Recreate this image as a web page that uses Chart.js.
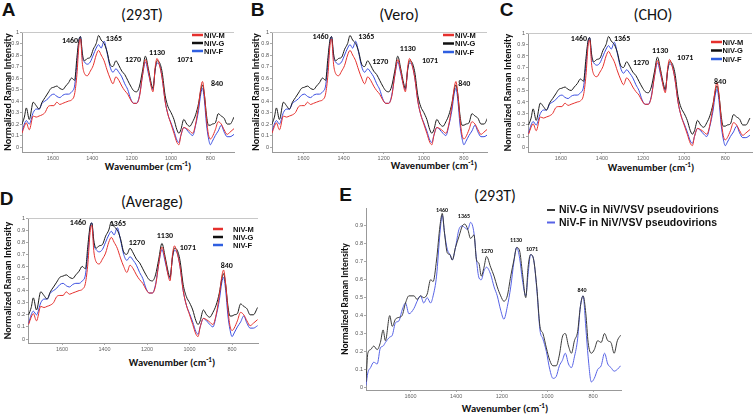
<!DOCTYPE html>
<html>
<head>
<meta charset="utf-8">
<script src="https://cdn.jsdelivr.net/npm/chart.js@4.4.1/dist/chart.umd.min.js"></script>
<style>
  body { margin: 0; background: #fff; }
  #wrap { position: relative; width: 754px; height: 415px; overflow: hidden; font-family: Carlito, Lato, 'Liberation Sans', sans-serif; color: #111; }
  canvas { position: absolute; }
  .txt { position: absolute; transform: translate(-50%, -50%); white-space: nowrap; line-height: 1; }
  .letter { font: bold 19px 'Liberation Sans', Arial, sans-serif; }
  .ttl { font-size: 16px; }
  .xt { font-weight: bold; font-size: 10.5px; }
  .xt sup { font-size: 7px; }
</style>
</head>
<body>
<div id="wrap">
  <div class="txt letter" style="left:8.5px;top:10px">A</div>
  <div class="txt letter" style="left:257.5px;top:10px">B</div>
  <div class="txt letter" style="left:506.5px;top:10px">C</div>
  <div class="txt letter" style="left:6.5px;top:198.5px">D</div>
  <div class="txt letter" style="left:345.5px;top:195px">E</div>

  <div class="txt ttl" style="left:142px;top:15px">(293T)</div>
  <div class="txt ttl" style="left:399px;top:15px">(Vero)</div>
  <div class="txt ttl" style="left:653px;top:15px">(CHO)</div>
  <div class="txt ttl" style="left:152px;top:202px">(Average)</div>
  <div class="txt ttl" style="left:495px;top:196px">(293T)</div>

  <div class="txt xt" style="left:148px;top:166px">Wavenumber (cm<sup>-1</sup>)</div>
  <div class="txt xt" style="left:434px;top:165px">Wavenumber (cm<sup>-1</sup>)</div>
  <div class="txt xt" style="left:651px;top:167px">Wavenumber (cm<sup>-1</sup>)</div>
  <div class="txt xt" style="left:172px;top:362px">Wavenumber (cm<sup>-1</sup>)</div>
  <div class="txt xt" style="left:505px;top:408px">Wavenumber (cm<sup>-1</sup>)</div>
</div>
<script>
const FONT = "Carlito, Lato, 'Liberation Sans', sans-serif";
const TICK_FONT = "'Liberation Sans', Arial, sans-serif";

// spectra of panels A-D (cell lines look alike, same traces)
const wavenumbers = [1757,1745,1735,1720,1700,1685,1670,1655,1640,1625,1610,1595,1580,1565,1550,1535,1520,1505,1490,1478,
  1468,1460,1450,1440,1425,1410,1395,1380,1368,1355,1340,1325,1310,1295,1280,1265,1250,1235,1220,1205,
  1190,1175,1160,1145,1130,1115,1100,1092,1080,1071,1060,1045,1030,1015,1000,985,970,960,950,935,
  920,905,890,875,860,848,840,830,820,810,800,790,775,760,745,730,715,700,680];
const nivM = [0.12,0.18,0.21,0.15,0.27,0.26,0.27,0.28,0.30,0.35,0.36,0.36,0.39,0.37,0.38,0.39,0.40,0.41,0.46,0.63,
  0.88,0.94,0.72,0.64,0.62,0.66,0.71,0.80,0.84,0.80,0.75,0.67,0.60,0.55,0.61,0.58,0.53,0.49,0.46,0.41,
  0.38,0.38,0.44,0.62,0.76,0.66,0.52,0.48,0.70,0.77,0.72,0.60,0.40,0.28,0.20,0.12,0.04,0.02,0.10,0.17,
  0.16,0.14,0.12,0.20,0.36,0.52,0.57,0.45,0.25,0.11,0.07,0.09,0.15,0.22,0.20,0.15,0.11,0.13,0.16];
const nivG = [0.20,0.26,0.34,0.24,0.39,0.36,0.33,0.39,0.43,0.47,0.51,0.52,0.53,0.51,0.50,0.53,0.56,0.60,0.58,0.78,
  0.93,0.96,0.81,0.75,0.77,0.78,0.85,0.90,0.97,0.93,0.90,0.83,0.72,0.70,0.75,0.71,0.66,0.63,0.58,0.53,
  0.49,0.48,0.53,0.66,0.79,0.68,0.55,0.51,0.68,0.75,0.74,0.65,0.45,0.35,0.30,0.24,0.15,0.12,0.15,0.24,
  0.20,0.18,0.22,0.28,0.38,0.50,0.54,0.45,0.28,0.19,0.19,0.20,0.21,0.29,0.27,0.25,0.20,0.20,0.26];
const nivF = [0.13,0.20,0.23,0.20,0.30,0.33,0.33,0.38,0.40,0.42,0.45,0.46,0.44,0.43,0.45,0.46,0.46,0.48,0.53,0.72,
  0.92,0.96,0.78,0.74,0.72,0.74,0.80,0.86,0.89,0.86,0.92,0.82,0.70,0.65,0.68,0.65,0.61,0.55,0.50,0.42,
  0.38,0.38,0.45,0.62,0.74,0.64,0.53,0.50,0.68,0.73,0.72,0.60,0.40,0.28,0.21,0.14,0.06,0.04,0.10,0.17,
  0.15,0.12,0.10,0.19,0.32,0.47,0.51,0.40,0.20,0.08,0.02,0.05,0.10,0.14,0.19,0.13,0.09,0.09,0.11];

// panel E, pseudovirions
const waveE = [1795,1787,1775,1761,1746,1732,1720,1710,1691,1680,1666,1651,1637,1622,1607,1585,1571,1556,1542,1527,
  1512,1501,1486,1471,1461,1451,1439,1427,1417,1403,1388,1373,1362,1349,1337,1322,1311,1300,1290,1278,
  1267,1249,1234,1220,1205,1191,1176,1161,1147,1135,1122,1110,1095,1085,1074,1062,1047,1033,1020,1005,
  990,976,962,948,935,922,908,895,882,868,856,844,832,822,808,795,780,765,750,736,722,708,694,680];
const pseudoG = [0.03,0.19,0.21,0.23,0.21,0.25,0.32,0.26,0.40,0.34,0.38,0.39,0.40,0.47,0.51,0.51,0.49,0.51,0.50,0.52,
  0.60,0.59,0.71,0.90,0.97,0.86,0.75,0.74,0.71,0.78,0.84,0.90,0.91,0.88,0.83,0.85,0.71,0.69,0.62,0.67,
  0.73,0.67,0.62,0.56,0.51,0.48,0.51,0.62,0.71,0.78,0.76,0.64,0.50,0.67,0.74,0.72,0.56,0.34,0.30,0.22,
  0.15,0.12,0.12,0.18,0.28,0.30,0.23,0.19,0.26,0.31,0.45,0.51,0.41,0.25,0.19,0.21,0.26,0.25,0.30,0.26,
  0.25,0.19,0.26,0.29];
const pseudoF = [0.01,0.08,0.11,0.14,0.13,0.22,0.23,0.25,0.28,0.29,0.36,0.37,0.43,0.47,0.41,0.44,0.48,0.51,0.47,0.50,
  0.47,0.51,0.62,0.86,0.96,0.86,0.77,0.74,0.71,0.78,0.88,0.90,0.89,0.88,0.92,0.86,0.71,0.61,0.60,0.65,
  0.67,0.63,0.56,0.51,0.43,0.38,0.45,0.56,0.70,0.78,0.72,0.60,0.51,0.63,0.74,0.72,0.55,0.32,0.27,0.20,
  0.10,0.05,0.06,0.12,0.15,0.19,0.13,0.11,0.17,0.27,0.45,0.51,0.33,0.17,0.03,0.05,0.10,0.12,0.19,0.13,
  0.11,0.09,0.10,0.12];

const xTickValues = [1600, 1400, 1200, 1000, 800];
const yTicksFull = [0, 0.1, 0.2, 0.3, 0.4, 0.5, 0.6, 0.7, 0.8, 0.9, 1];
const yTicksE = [0, 0.1, 0.2, 0.3, 0.4, 0.5, 0.6, 0.7, 0.8, 0.9];

const legendNames = ['NiV-M', 'NiV-G', 'NiV-F'];
const legendNamesE = ['NiV-G in NiV/VSV pseudovirions', 'NiV-F in NiV/VSV pseudovirions'];

// peak annotations: text and anchor [wavenumber, intensity]
const peakNames = ['1460', '1365', '1270', '1130', '1071', '840'];
const peaksA = [[1513,0.92],[1290,0.94],[1193,0.76],[1071,0.82],[929,0.76],[766,0.55]];
const peaksB = [[1515,0.96],[1287,0.96],[1217,0.74],[1080,0.85],[969,0.75],[798,0.55]];
const peaksC = [[1512,0.95],[1302,0.95],[1210,0.74],[1117,0.84],[995,0.78],[825,0.57]];
const peaksD = [[1525,0.96],[1337,0.95],[1248,0.79],[1116,0.85],[1008,0.75],[825,0.60]];
const peaksE = [[1462,0.985],[1366,0.95],[1265,0.76],[1138,0.82],[1068,0.77],[849,0.54]];

const peakPlugin = {
  id: 'peaks',
  afterDatasetsDraw(chart, args, o) {
    const {ctx, scales: {x, y}} = chart;
    ctx.save();
    ctx.font = 'bold ' + o.size + 'px ' + FONT;
    ctx.fillStyle = '#111';
    ctx.textAlign = 'center';
    ctx.textBaseline = 'middle';
    peakNames.forEach((t, i) => {
      ctx.fillText(t, x.getPixelForValue(o.at[i][0]), y.getPixelForValue(o.at[i][1]));
    });
    ctx.restore();
  }
};

const insetLegend = {
  id: 'inset',
  afterDraw(chart, args, o) {
    const {ctx, chartArea} = chart;
    ctx.save();
    ctx.font = 'bold ' + o.size + 'px ' + o.family;
    ctx.textAlign = 'left';
    ctx.textBaseline = 'middle';
    chart.data.datasets.forEach((ds, i) => {
      const xx = chartArea.left + o.x;
      const yy = chartArea.top + o.y + i * o.row;
      ctx.strokeStyle = o.colors ? o.colors[i] : ds.borderColor;
      ctx.lineWidth = o.lw;
      ctx.beginPath();
      ctx.moveTo(xx, yy);
      ctx.lineTo(xx + o.len, yy);
      ctx.stroke();
      ctx.fillStyle = '#111';
      ctx.fillText(ds.label, xx + o.len + o.gap, yy + 0.5);
    });
    ctx.restore();
  }
};

const topLine = {
  id: 'topLine',
  afterDraw(chart, args, o) {
    if (!o.show) return;
    const {ctx, chartArea} = chart;
    ctx.save();
    ctx.strokeStyle = '#c8c8c8';
    ctx.lineWidth = 1;
    ctx.beginPath();
    ctx.moveTo(chartArea.left, chartArea.top + 0.5);
    ctx.lineTo(chartArea.right, chartArea.top + 0.5);
    ctx.stroke();
    ctx.restore();
  }
};

const RED = '#e5302d', BLACK = '#1b1b1b', BLUE = '#3a4de0';
const seriesMGF = [
  {label: legendNames[0], values: nivM, color: RED},
  {label: legendNames[1], values: nivG, color: BLACK},
  {label: legendNames[2], values: nivF, color: BLUE}
];
const seriesE = [
  {label: legendNamesE[0], values: pseudoG, color: '#3a3a3a'},
  {label: legendNamesE[1], values: pseudoF, color: '#5763e6'}
];
const legendSmall = {size: 7.5, family: "'Liberation Sans', Arial, sans-serif", lw: 2.5, colors: [RED, '#111', '#2f5fe0']};

function panel(p) {
  const cv = document.createElement('canvas');
  cv.width = p.w;
  cv.height = p.h;
  cv.style.left = p.left + 'px';
  cv.style.top = p.top + 'px';
  document.getElementById('wrap').appendChild(cv);
  const xh = 12;
  new Chart(cv, {
    type: 'line',
    data: {
      datasets: p.series.map(s => ({
        label: s.label,
        data: s.values.map((v, i) => ({x: p.wn[i], y: v})),
        borderColor: s.color,
        borderWidth: 1,
        pointRadius: 0,
        cubicInterpolationMode: 'monotone',
        fill: false
      }))
    },
    options: {
      responsive: false,
      animation: false,
      events: [],
      layout: {padding: {left: 0, top: p.area.t - p.top, right: p.left + p.w - p.area.r, bottom: p.top + p.h - p.area.b - xh}},
      scales: {
        x: {
          type: 'linear', reverse: true, min: p.xMin, max: p.xMax,
          afterBuildTicks: a => { a.ticks = xTickValues.map(v => ({value: v})); },
          afterFit: a => { a.height = xh; },
          ticks: {font: {size: 5.5, family: TICK_FONT}, color: '#666', padding: 1, maxRotation: 0, autoSkip: false, callback: v => String(v)},
          grid: {drawOnChartArea: false, tickLength: 2, color: '#aaa'},
          border: {color: '#999'}
        },
        y: {
          min: p.yMin, max: 1,
          afterBuildTicks: a => { a.ticks = p.yTicks.map(v => ({value: v})); },
          afterFit: a => { a.width = p.area.l - p.left; },
          ticks: {font: {size: 5.5, family: TICK_FONT}, color: '#555', padding: 1, autoSkip: false, callback: v => String(Math.round(v * 10) / 10)},
          grid: {drawOnChartArea: false, tickLength: 2, color: '#aaa'},
          border: {color: '#999'},
          title: {display: true, text: 'Normalized Raman Intensity', color: '#111',
                  font: {size: p.yTitleSize, weight: 'bold', family: FONT}, padding: {top: p.yTitlePad, bottom: 0}}
        }
      },
      plugins: {
        legend: {display: false},
        tooltip: {enabled: false},
        peaks: {at: p.peaks, size: p.peakSize},
        inset: p.legend,
        topLine: {show: p.topLine}
      }
    },
    plugins: [peakPlugin, insetLegend, topLine]
  });
}

panel({left: 0, top: 0, w: 250, h: 170, area: {l: 22, t: 32, r: 234, b: 152}, xMin: 680, xMax: 1757, yMin: -0.043,
  yTicks: yTicksFull, wn: wavenumbers, series: seriesMGF, peaks: peaksA, peakSize: 8, yTitleSize: 10, yTitlePad: 2, topLine: true,
  legend: Object.assign({x: 170, y: 3, row: 8, len: 11, gap: 1}, legendSmall)});
panel({left: 250, top: 0, w: 250, h: 170, area: {l: 272, t: 32, r: 487, b: 152}, xMin: 685, xMax: 1757, yMin: -0.043,
  yTicks: yTicksFull, wn: wavenumbers, series: seriesMGF, peaks: peaksB, peakSize: 8, yTitleSize: 10, yTitlePad: 0, topLine: true,
  legend: Object.assign({x: 171, y: 3, row: 8.5, len: 11, gap: 1}, legendSmall)});
panel({left: 500, top: 0, w: 254, h: 170, area: {l: 528, t: 33, r: 752, b: 152}, xMin: 670, xMax: 1760, yMin: -0.035,
  yTicks: yTicksFull, wn: wavenumbers, series: seriesMGF, peaks: peaksC, peakSize: 8, yTitleSize: 10, yTitlePad: 2, topLine: true,
  legend: Object.assign({x: 183, y: 9, row: 8.5, len: 11, gap: 0.5}, legendSmall)});
panel({left: 0, top: 170, w: 262, h: 200, area: {l: 28, t: 218, r: 258, b: 343}, xMin: 678, xMax: 1760, yMin: -0.033,
  yTicks: yTicksFull, wn: wavenumbers, series: seriesMGF, peaks: peaksD, peakSize: 8, yTitleSize: 10, yTitlePad: 2, topLine: true,
  legend: Object.assign({x: 185, y: 11, row: 8, len: 10, gap: 10}, legendSmall)});
panel({left: 338, top: 185, w: 416, h: 230, area: {l: 366, t: 208, r: 621, b: 390}, xMin: 678, xMax: 1795, yMin: -0.015,
  yTicks: yTicksE, wn: waveE, series: seriesE, peaks: peaksE, peakSize: 6, yTitleSize: 9.5, yTitlePad: 2, topLine: false,
  legend: {x: 181, y: 2, row: 12.5, len: 8, gap: 4, size: 10.5, family: "'Liberation Sans', Arial, sans-serif", lw: 2}});
</script>
</body>
</html>
